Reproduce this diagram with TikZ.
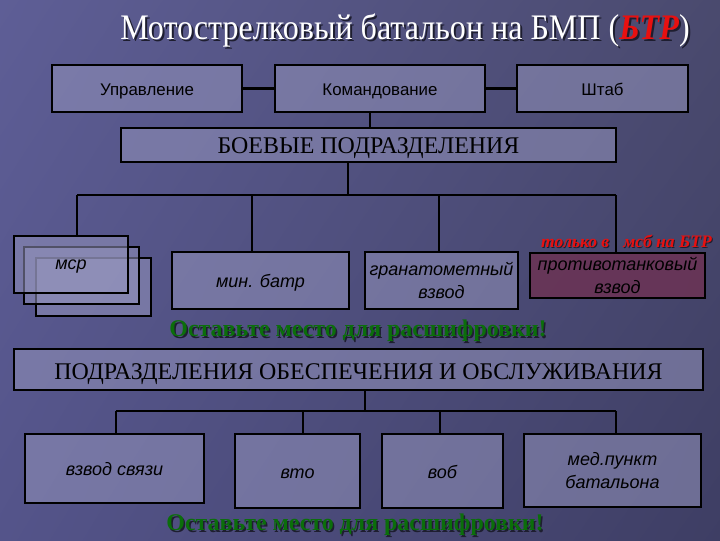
\documentclass[tikz,border=0pt]{standalone}
\usepackage{fontspec}
\setmainfont{Liberation Serif}
\setsansfont{Liberation Sans}
\usetikzlibrary{positioning,shadings}

\definecolor{bgtl}{HTML}{5E5E96}
\definecolor{bgtr}{HTML}{4A4A6E}
\definecolor{bgbl}{HTML}{54548A}
\definecolor{bgbr}{HTML}{3E3E64}
\definecolor{boxfill}{HTML}{9494BC}
\definecolor{ptfill}{HTML}{6A3456}
\definecolor{leavegreen}{HTML}{0B6E0B}
\definecolor{shadowc}{HTML}{1E1E30}
\definecolor{notered}{HTML}{E81010}

% заголовок слайда
\newcommand{\battitle}[1]{Мотострелковый батальон на БМП (\textcolor{#1}{\textbf{\textit{БТР}}})}

\tikzset{
  box/.style={draw=black, fill=boxfill, fill opacity=0.55, text opacity=1,
    inner sep=0pt, align=center, font=\sffamily\fontsize{12}{14}\selectfont},
  boxit/.style={box, font=\sffamily\itshape\fontsize{12.8}{16}\selectfont},
  boxserif/.style={box, font=\rmfamily\fontsize{17}{20}\selectfont},
  oneline/.style={text height=#1, text depth=0pt},
  oneline/.default=10pt,
  sz/.style 2 args={minimum width=#1*0.025cm, minimum height=#2*0.025cm},
  leave/.style={font=\rmfamily\bfseries\fontsize{17}{20}\selectfont, text=leavegreen},
  leaveshadow/.style={leave, text=shadowc},
  note/.style={font=\rmfamily\bfseries\itshape\fontsize{12.5}{14}\selectfont, text=notered},
  conn/.style={draw=black, line width=2pt}
}

\begin{document}
\begin{tikzpicture}[x=0.025cm, y=-0.025cm, line width=2pt]
    % фон
    \useasboundingbox (0,0) rectangle (720,540);
    \shade[upper left=bgtl, upper right=bgtr, lower left=bgbl, lower right=bgbr]
        (0,0) rectangle (720,540);

    % заголовок с тенью
    \node[font=\rmfamily\fontsize{22.8}{27}\selectfont, text=shadowc] (titleshadow) at (407,32)
        {\scalebox{1}[1.12]{\battitle{shadowc}}};
    \node[font=\rmfamily\fontsize{22.8}{27}\selectfont, text=white] (title) at (405,30)
        {\scalebox{1}[1.12]{\battitle{notered}}};

    % управление батальона
    \node[box, oneline=10.6pt, sz={190}{47}] (upr) at (147,88.5) {Управление};
    \node[box, oneline=10.6pt, sz={210}{47}] (kom) at (380,88.5) {Командование};
    \node[box, oneline=10.6pt, sz={171}{47}] (shtab) at (602.5,88.5) {Штаб};
    \draw[conn] (upr.east) -- (kom.west);
    \draw[conn] (kom.east) -- (shtab.west);

    % боевые подразделения
    \node[boxserif, oneline=11.4pt, sz={495}{34}] (boev) at (368.5,145) {БОЕВЫЕ ПОДРАЗДЕЛЕНИЯ};
    \coordinate (kx) at (370,0);
    \draw[conn] (kx |- kom.south) -- (kx |- boev.north);

    % три роты
    \node[boxit, sz={115}{58}] (msr3) at (93.5,287) {};
    \node[boxit, sz={115}{57}] (msr2) at (81.5,275.5) {};
    \node[boxit, oneline=7.8pt, sz={114}{57}] (msr1) at (71,264.5) {мср};
    \node[boxit, oneline, sz={177}{57}] (min) at (260.5,280.5) {мин. батр};
    \node[boxit, sz={153}{57}] (gran) at (441.5,280.5) {гранатометный\\взвод};
    \node[boxit, sz={175}{45}, fill=ptfill, fill opacity=0.9] (pt) at (617.5,275.5)
        {противотанковый\\взвод};
    \node[note, text=shadowc] at (627.5,242) {только в\hspace{10pt}мсб на БТР};
    \node[note] (remark) at (626.5,241) {только в\hspace{10pt}мсб на БТР};

    % шина боевых подразделений
    \coordinate (busA) at (77,195);
    \coordinate (busB) at (616,195);
    \coordinate (busC) at (348,195);
    \coordinate (busD) at (252,195);
    \coordinate (busE) at (439,195);
    \draw[conn] (busA) -- (busB);
    \draw[conn] (busC |- boev.south) -- (busC);
    \draw[conn] (busA) -- (busA |- msr1.north);
    \draw[conn] (busD) -- (busD |- min.north);
    \draw[conn] (busE) -- (busE |- gran.north);
    \draw[conn] (busB) -- (busB |- pt.north);

    % надпись-напоминание
    \node[leaveshadow] at (359.5,332.5) {Оставьте место для расшифровки!};
    \node[leave] (leave1) at (358,331) {Оставьте место для расшифровки!};

    % подразделения обеспечения
    \node[boxserif, oneline=13.5pt, sz={689}{41}] (obesp) at (358.5,369.5)
        {ПОДРАЗДЕЛЕНИЯ ОБЕСПЕЧЕНИЯ И ОБСЛУЖИВАНИЯ};
    \node[boxit, oneline, sz={179}{69}] (svyaz) at (114.5,468.5) {взвод связи};
    \node[boxit, oneline, sz={125}{74}] (vto) at (297.5,471) {вто};
    \node[boxit, oneline, sz={121}{74}] (vob) at (442.5,471) {воб};
    \node[boxit, sz={177}{73}] (med) at (612.5,470.5) {мед.пункт\\батальона};

    % шина обеспечения
    \coordinate (lowA) at (116,411);
    \coordinate (lowB) at (616,411);
    \coordinate (lowC) at (365,411);
    \coordinate (lowD) at (303,411);
    \coordinate (lowE) at (440,411);
    \draw[conn] (lowA) -- (lowB);
    \draw[conn] (lowC |- obesp.south) -- (lowC);
    \draw[conn] (lowA) -- (lowA |- svyaz.north);
    \draw[conn] (lowD) -- (lowD |- vto.north);
    \draw[conn] (lowE) -- (lowE |- vob.north);
    \draw[conn] (lowB) -- (lowB |- med.north);

    % нижняя надпись
    \node[leaveshadow] at (356.5,526.5) {Оставьте место для расшифровки!};
    \node[leave] (leave2) at (355,525) {Оставьте место для расшифровки!};
\end{tikzpicture}
\end{document}
